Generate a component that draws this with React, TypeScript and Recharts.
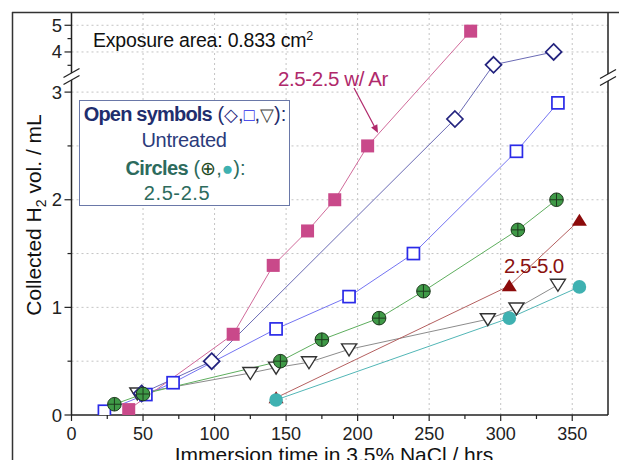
import React from 'react';
import { ComposedChart, Line, XAxis, YAxis, ReferenceLine } from 'recharts';

// ---------------- data (hours, mL) ----------------
const arTime = [40, 113, 141, 165, 184, 207, 279];
const arVol = [0.05, 0.75, 1.39, 1.71, 2.0, 2.5, 4.78];

const diamondTime = [49, 98, 268, 295, 337];
const diamondVol = [0.2, 0.5, 2.75, 3.52, 4.0];

const squareTime = [23, 52, 71, 143, 194, 239, 311, 340];
const squareVol = [0.035, 0.19, 0.3, 0.8, 1.1, 1.5, 2.45, 2.9];

const triDownTime = [46, 125, 143, 166, 194, 291, 311, 340];
const triDownVol = [0.2, 0.39, 0.44, 0.49, 0.61, 0.89, 0.99, 1.21];

const crossTime = [30, 50, 146, 175, 215, 246, 312, 339];
const crossVol = [0.1, 0.195, 0.5, 0.7, 0.9, 1.15, 1.72, 2.0];

const sol50Time = [143, 306, 355];
const sol50Vol = [0.16, 1.2, 1.81];

const tealTime = [143, 306, 355];
const tealVol = [0.14, 0.9, 1.19];

const xTicks = [0, 25, 50, 75, 100, 125, 150, 175, 200, 225, 250, 275, 300, 325, 350];
const xGrid = [50, 100, 150, 200, 250, 300, 350];
const yTicks = [0, 0.5, 1, 1.5, 2, 2.5, 3, 3.5, 4, 4.5, 5];
const yGrid = [0.5, 1, 1.5, 2, 2.5, 3, 4, 5];

// ---------------- broken y-axis mapping ----------------
const BREAK_T = 3.148;
const UPPER_AT4 = 3.373;
const UPPER_SCALE = 0.248;
const Y_TOP = 3.735;
const tY = (v: number) => (v <= BREAK_T ? v : UPPER_AT4 + (v - 4) * UPPER_SCALE);
const invY = (t: number) => (t <= BREAK_T + 1e-6 ? t : 4 + (t - UPPER_AT4) / UPPER_SCALE);

const build = (times: number[], vols: number[]) => times.map((x, i) => ({ x, y: tY(vols[i]) }));

const FONT = '"Liberation Sans", Arial, Helvetica, sans-serif';

type Kind = 'sqFill' | 'diamond' | 'sqOpen' | 'triDown' | 'cross' | 'triUp' | 'dot';

const series: { id: string; data: { x: number; y: number }[]; line: string; kind: Kind }[] = [
  { id: 'triDown', data: build(triDownTime, triDownVol), line: '#8c8c8c', kind: 'triDown' },
  { id: 'diamond', data: build(diamondTime, diamondVol), line: '#6a6ab4', kind: 'diamond' },
  { id: 'square', data: build(squareTime, squareVol), line: '#7474f2', kind: 'sqOpen' },
  { id: 'ar', data: build(arTime, arVol), line: '#d06a9a', kind: 'sqFill' },
  { id: 'cross', data: build(crossTime, crossVol), line: '#5eae5e', kind: 'cross' },
  { id: 'sol50', data: build(sol50Time, sol50Vol), line: '#b46060', kind: 'triUp' },
  { id: 'teal', data: build(tealTime, tealVol), line: '#52b6b6', kind: 'dot' },
];

const renderMarker = (kind: Kind, id: string) => (p: any) => {
  const { cx, cy, index } = p;
  const key = `${id}-${index}`;
  if (cx == null || cy == null) return <g key={key} />;
  switch (kind) {
    case 'sqFill':
      return <rect key={key} x={cx - 6.5} y={cy - 6.5} width={13} height={13} fill="#c9498a" />;
    case 'diamond':
      return (
        <polygon key={key} points={`${cx},${cy - 8} ${cx + 8},${cy} ${cx},${cy + 8} ${cx - 8},${cy}`}
          fill="#fff" stroke="#23237e" strokeWidth={1.7} />
      );
    case 'sqOpen':
      return <rect key={key} x={cx - 6} y={cy - 6} width={12} height={12} fill="#fff" stroke="#2a2ae8" strokeWidth={1.7} />;
    case 'triDown':
      return (
        <polygon key={key} points={`${cx - 7.5},${cy - 5.5} ${cx + 7.5},${cy - 5.5} ${cx},${cy + 6.5}`}
          fill="#fff" stroke="#333" strokeWidth={1.4} />
      );
    case 'cross':
      return (
        <g key={key}>
          <circle cx={cx} cy={cy} r={6.8} fill="#3f9a47" stroke="#1e3a1e" strokeWidth={1} />
          <line x1={cx - 6.8} x2={cx + 6.8} y1={cy} y2={cy} stroke="#1e3a1e" strokeWidth={1} />
          <line x1={cx} x2={cx} y1={cy - 6.8} y2={cy + 6.8} stroke="#1e3a1e" strokeWidth={1} />
        </g>
      );
    case 'triUp':
      return <polygon key={key} points={`${cx - 7.5},${cy + 5.5} ${cx + 7.5},${cy + 5.5} ${cx},${cy - 6.5}`} fill="#8c0b0b" />;
    case 'dot':
    default:
      return <circle key={key} cx={cx} cy={cy} r={6.8} fill="#3fb1b1" />;
  }
};

const XTick = (props: any) => {
  const { x, y, payload } = props;
  const v = payload.value;
  const major = v % 50 === 0;
  return (
    <g>
      <line x1={x} x2={x} y1={y} y2={y + (major ? 6 : 4)} stroke="#222" strokeWidth={1.2} />
      {major && (
        <text x={x} y={y + 25} textAnchor="middle" fontSize={18} fill="#222" fontFamily={FONT}>
          {v}
        </text>
      )}
    </g>
  );
};

const YTick = (props: any) => {
  const { x, y, payload } = props;
  const real = invY(payload.value);
  const major = Math.abs(real - Math.round(real)) < 0.02;
  return (
    <g>
      <line x1={x} x2={x - (major ? 7 : 4)} y1={y} y2={y} stroke="#222" strokeWidth={1.2} />
      {major && (
        <text x={x - 9.5} y={y + 6.5} textAnchor="end" fontSize={18.5} fill="#222" fontFamily={FONT}>
          {Math.round(real)}
        </text>
      )}
    </g>
  );
};

const BreakMark = ({ cx, cy }: { cx: number; cy: number }) => (
  <g>
    <polygon points={`${cx - 8},${cy + 1.5} ${cx + 8},${cy - 7.5} ${cx + 8},${cy - 0.5} ${cx - 8},${cy + 8.5}`} fill="#fff" />
    <line x1={cx - 8} y1={cy + 1.5} x2={cx + 8} y2={cy - 7.5} stroke="#222" strokeWidth={1.3} />
    <line x1={cx - 8} y1={cy + 8.5} x2={cx + 8} y2={cy - 0.5} stroke="#222" strokeWidth={1.3} />
  </g>
);

export default function App() {
  return (
    <div style={{ position: 'absolute', left: 0, top: 0, width: 619, height: 460, background: '#fff', overflow: 'hidden' }}>
      <ComposedChart width={619} height={460} margin={{ top: 13, right: 11, bottom: 0, left: 11.5 }}>
        {xGrid.map((v) => (
          <ReferenceLine key={`gx${v}`} x={v} stroke="#c4c4c4" strokeDasharray="2 3" strokeWidth={1} />
        ))}
        {yGrid.map((v) => (
          <ReferenceLine key={`gy${v}`} y={tY(v)} stroke="#c4c4c4" strokeDasharray="2 3" strokeWidth={1} />
        ))}
        <XAxis
          type="number"
          dataKey="x"
          domain={[0, 375]}
          ticks={xTicks}
          interval={0}
          tick={<XTick />}
          tickLine={false}
          tickSize={0}
          tickMargin={0}
          height={45}
          axisLine={{ stroke: '#222', strokeWidth: 1.5 }}
          allowDataOverflow
        />
        <YAxis
          type="number"
          dataKey="y"
          domain={[0, Y_TOP]}
          ticks={yTicks.map(tY)}
          interval={0}
          tick={<YTick />}
          tickLine={false}
          tickSize={0}
          tickMargin={0}
          width={60}
          axisLine={{ stroke: '#222', strokeWidth: 1.5 }}
          allowDataOverflow
        />
        <ReferenceLine x={375} stroke="#222" strokeWidth={1.5} />
        {series.map((s) => (
          <Line
            key={s.id}
            data={s.data}
            dataKey="y"
            type="linear"
            stroke={s.line}
            strokeWidth={1}
            dot={renderMarker(s.kind, s.id)}
            activeDot={false}
            isAnimationActive={false}
            legendType="none"
          />
        ))}
      </ComposedChart>

      <svg width={619} height={460} style={{ position: 'absolute', left: 0, top: 0, pointerEvents: 'none' }} fontFamily={FONT}>
        {/* outer frame */}
        <line x1={12} y1={12.5} x2={619} y2={12.5} stroke="#333" strokeWidth={1.5} />
        <line x1={12.5} y1={12} x2={12.5} y2={460} stroke="#333" strokeWidth={1.5} />

        {/* axis breaks */}
        <BreakMark cx={71.5} cy={76} />
        <BreakMark cx={608} cy={77} />

        {/* axis titles */}
        <text transform="translate(41,215) rotate(-90)" textAnchor="middle" fontSize={21} fill="#111">
          Collected H<tspan dy={5} fontSize={14}>2</tspan>
          <tspan dy={-5}> vol. / mL</tspan>
        </text>
        <text x={334} y={462} textAnchor="middle" fontSize={21} fill="#111">
          Immersion time in 3.5% NaCl / hrs
        </text>

        {/* annotations */}
        <text x={93} y={46.5} fontSize={19.5} fill="#111" letterSpacing={-0.2}>
          Exposure area: 0.833 cm<tspan dy={-7} fontSize={12.5}>2</tspan>
        </text>
        <text x={278} y={85.5} fontSize={20.5} fill="#b0296b" letterSpacing={-0.4}>
          2.5-2.5 w/ Ar
        </text>
        <line x1={354} y1={88} x2={374.2} y2={126} stroke="#b0296b" strokeWidth={1.2} />
        <polygon points="378,133 371.1,127.6 377.3,124.3" fill="#b0296b" />
        <text x={504} y={272.5} fontSize={20.5} fill="#8a1111" letterSpacing={-0.6}>
          2.5-5.0
        </text>

        {/* legend box */}
        <rect x={79.5} y={100.5} width={210} height={105} fill="#fff" stroke="#6a78a8" strokeWidth={1} />
        <text x={185} y={121} textAnchor="middle" fontSize={20} fill="#1f2e6e">
          <tspan fontWeight="bold" letterSpacing={-0.8}>Open symbols</tspan>
          <tspan> (</tspan>
          <tspan fill="#23237e" fontSize={18}>◇</tspan>
          <tspan>,</tspan>
          <tspan fill="#2a2ae8" fontSize={18}>□</tspan>
          <tspan>,</tspan>
          <tspan fill="#444" fontSize={18}>▽</tspan>
          <tspan>):</tspan>
        </text>
        <text x={184} y={146.5} textAnchor="middle" fontSize={20} fill="#2b3b7b" letterSpacing={-0.3}>
          Untreated
        </text>
        <text x={185.5} y={175} textAnchor="middle" fontSize={20} fill="#2d6b5d">
          <tspan fontWeight="bold" letterSpacing={-0.6}>Circles</tspan>
          <tspan> (</tspan>
          <tspan fill="#1e4a1e" fontSize={19}>⊕</tspan>
          <tspan>,</tspan>
          <tspan fill="#3fb1b1" fontSize={19}>●</tspan>
          <tspan>):</tspan>
        </text>
        <text x={177} y={200} textAnchor="middle" fontSize={20} fill="#2d6b5d" letterSpacing={0.6}>
          2.5-2.5
        </text>
      </svg>
    </div>
  );
}
